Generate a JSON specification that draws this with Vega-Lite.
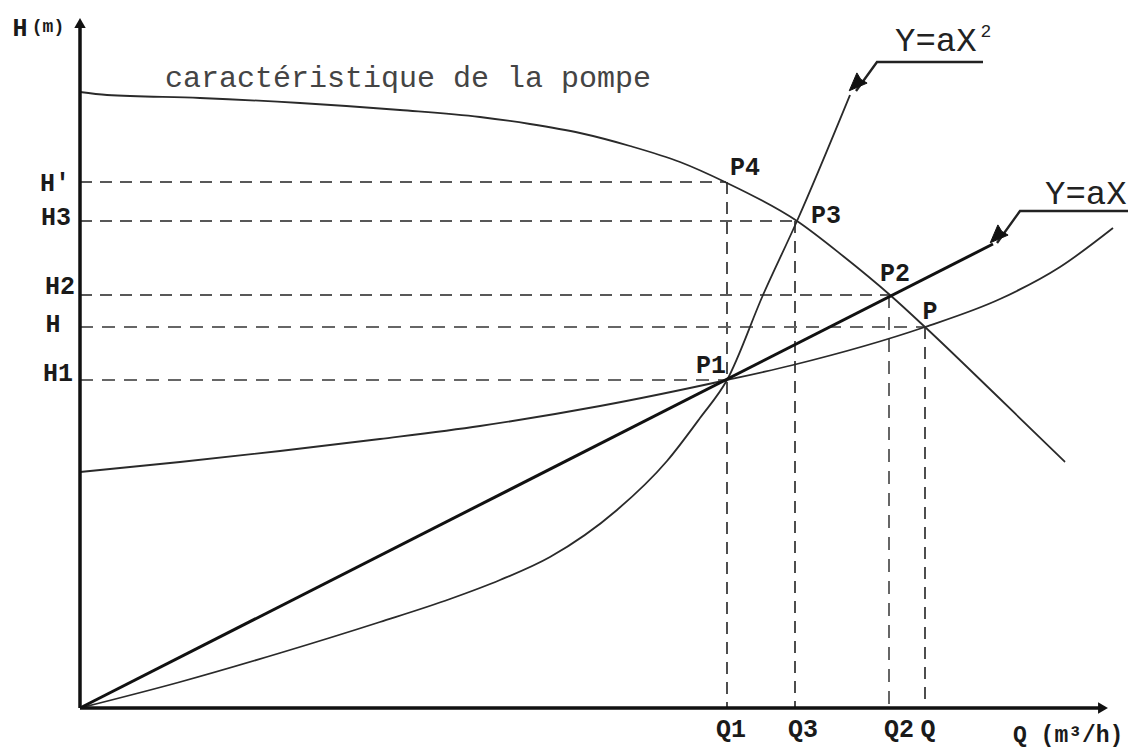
{
  "$schema": "https://vega.github.io/schema/vega-lite/v6.json",
  "width": 1030,
  "height": 693,
  "autosize": {"type": "none"},
  "padding": {"left": 80, "top": 15, "right": 35, "bottom": 43},
  "background": "white",
  "config": {"view": {"stroke": null}},
  "datasets": {
    "guides": [
      {"name": "H'", "tone": "dark", "x": 0, "y": 526, "x2": 646, "y2": 526},
      {"name": "H3", "tone": "dark", "x": 0, "y": 487, "x2": 717, "y2": 487},
      {"name": "H2", "tone": "dark", "x": 0, "y": 413, "x2": 810, "y2": 413},
      {"name": "H", "tone": "gray", "x": 0, "y": 381, "x2": 845, "y2": 381},
      {"name": "H1", "tone": "gray", "x": 0, "y": 328, "x2": 647, "y2": 328},
      {"name": "Q1", "tone": "dark", "x": 647, "y": 526, "x2": 647, "y2": 0},
      {"name": "Q3", "tone": "dark", "x": 715, "y": 487, "x2": 715, "y2": 0},
      {"name": "Q2", "tone": "gray", "x": 809, "y": 413, "x2": 809, "y2": 0},
      {"name": "Q", "tone": "dark", "x": 845, "y": 381, "x2": 845, "y2": 0}
    ],
    "curves": [
      {"s": "pump", "i": 0, "x": 0, "y": 616},
      {"s": "pump", "i": 1, "x": 27, "y": 613},
      {"s": "pump", "i": 2, "x": 120, "y": 610},
      {"s": "pump", "i": 3, "x": 220, "y": 605},
      {"s": "pump", "i": 4, "x": 320, "y": 598},
      {"s": "pump", "i": 5, "x": 400, "y": 591},
      {"s": "pump", "i": 6, "x": 450, "y": 584},
      {"s": "pump", "i": 7, "x": 500, "y": 575},
      {"s": "pump", "i": 8, "x": 550, "y": 562},
      {"s": "pump", "i": 9, "x": 600, "y": 546},
      {"s": "pump", "i": 10, "x": 645, "y": 526},
      {"s": "pump", "i": 11, "x": 717, "y": 487},
      {"s": "pump", "i": 12, "x": 763, "y": 452},
      {"s": "pump", "i": 13, "x": 810, "y": 413},
      {"s": "pump", "i": 14, "x": 845, "y": 381},
      {"s": "pump", "i": 15, "x": 915, "y": 314},
      {"s": "pump", "i": 16, "x": 985, "y": 246},
      {"s": "para", "i": 0, "x": 0, "y": 0},
      {"s": "para", "i": 1, "x": 100, "y": 26},
      {"s": "para", "i": 2, "x": 200, "y": 55},
      {"s": "para", "i": 3, "x": 300, "y": 86},
      {"s": "para", "i": 4, "x": 370, "y": 109},
      {"s": "para", "i": 5, "x": 420, "y": 128},
      {"s": "para", "i": 6, "x": 470, "y": 151},
      {"s": "para", "i": 7, "x": 537, "y": 198},
      {"s": "para", "i": 8, "x": 587, "y": 247},
      {"s": "para", "i": 9, "x": 620, "y": 290},
      {"s": "para", "i": 10, "x": 647, "y": 328},
      {"s": "para", "i": 11, "x": 683, "y": 413},
      {"s": "para", "i": 12, "x": 717, "y": 487},
      {"s": "para", "i": 13, "x": 770, "y": 613},
      {"s": "lin", "i": 0, "x": 0, "y": 0},
      {"s": "lin", "i": 1, "x": 913, "y": 464},
      {"s": "net", "i": 0, "x": 0, "y": 236},
      {"s": "net", "i": 1, "x": 100, "y": 246},
      {"s": "net", "i": 2, "x": 200, "y": 257},
      {"s": "net", "i": 3, "x": 300, "y": 269},
      {"s": "net", "i": 4, "x": 400, "y": 282},
      {"s": "net", "i": 5, "x": 520, "y": 302},
      {"s": "net", "i": 6, "x": 647, "y": 328},
      {"s": "net", "i": 7, "x": 713, "y": 343},
      {"s": "net", "i": 8, "x": 845, "y": 381},
      {"s": "net", "i": 9, "x": 920, "y": 409},
      {"s": "net", "i": 10, "x": 980, "y": 441},
      {"s": "net", "i": 11, "x": 1033, "y": 480},
      {"s": "lead1", "i": 0, "x": 776, "y": 617},
      {"s": "lead1", "i": 1, "x": 797, "y": 646},
      {"s": "lead1", "i": 2, "x": 903, "y": 646},
      {"s": "lead2", "i": 0, "x": 917, "y": 465},
      {"s": "lead2", "i": 1, "x": 940, "y": 497},
      {"s": "lead2", "i": 2, "x": 1048, "y": 497}
    ],
    "axes": [
      {"name": "Q", "x": 0, "y": 0, "x2": 1022, "y2": 0},
      {"name": "H", "x": 0, "y": 0, "x2": 0, "y2": 684}
    ],
    "heads": [
      {"name": "yaxis", "x": 0, "y": 685},
      {"name": "xaxis", "x": 1023, "y": 0},
      {"name": "lead1", "x": 782, "y": 630},
      {"name": "lead2", "x": 923, "y": 478}
    ],
    "labels": [
      {"kind": "h", "text": "H'", "x": -25, "y": 525},
      {"kind": "h", "text": "H3", "x": -24, "y": 491},
      {"kind": "h", "text": "H2", "x": -20, "y": 422},
      {"kind": "h", "text": "H", "x": -27, "y": 384},
      {"kind": "h", "text": "H1", "x": -22, "y": 335},
      {"kind": "h", "text": "Q1", "x": 651, "y": -21},
      {"kind": "h", "text": "Q3", "x": 723, "y": -21},
      {"kind": "h", "text": "Q2", "x": 819, "y": -21},
      {"kind": "h", "text": "Q", "x": 848, "y": -21},
      {"kind": "h", "text": "P4", "x": 665, "y": 541},
      {"kind": "h", "text": "P3", "x": 746, "y": 493},
      {"kind": "h", "text": "P2", "x": 815, "y": 435},
      {"kind": "h", "text": "P", "x": 850, "y": 397},
      {"kind": "h", "text": "P1", "x": 631, "y": 343},
      {"kind": "h", "text": "H", "x": -60, "y": 680},
      {"kind": "m", "text": "(m)", "x": -32, "y": 681},
      {"kind": "qt", "text": "Q (m³/h)", "x": 933, "y": -27},
      {"kind": "cap", "text": "caractéristique de la pompe", "x": 85, "y": 630},
      {"kind": "eq", "text": "Y=aX", "x": 815, "y": 667},
      {"kind": "eq", "text": "Y=aX", "x": 965, "y": 514},
      {"kind": "sup", "text": "2", "x": 906, "y": 676}
    ]
  },
  "encoding": {
    "x": {"field": "x", "type": "quantitative", "scale": {"domain": [0, 1030], "nice": false, "zero": false}, "axis": null},
    "y": {"field": "y", "type": "quantitative", "scale": {"domain": [0, 693], "nice": false, "zero": false}, "axis": null}
  },
  "layer": [
    {
      "data": {"name": "guides"},
      "transform": [{"filter": "datum.tone == 'dark'"}],
      "mark": {"type": "rule", "stroke": "#222", "strokeWidth": 1.6, "strokeDash": [12, 8]},
      "encoding": {"x2": {"field": "x2"}, "y2": {"field": "y2"}}
    },
    {
      "data": {"name": "guides"},
      "transform": [{"filter": "datum.tone == 'gray'"}],
      "mark": {"type": "rule", "stroke": "#666", "strokeWidth": 2, "strokeDash": [13, 9]},
      "encoding": {"x2": {"field": "x2"}, "y2": {"field": "y2"}}
    },
    {
      "data": {"name": "curves"},
      "transform": [{"filter": "datum.s == 'pump' || datum.s == 'para' || datum.s == 'net'"}],
      "mark": {"type": "line", "stroke": "#2a2a2a", "strokeWidth": 1.8, "interpolate": "monotone"},
      "encoding": {
        "detail": {"field": "s", "type": "nominal"},
        "order": {"field": "i", "type": "quantitative"}
      }
    },
    {
      "data": {"name": "curves"},
      "transform": [{"filter": "datum.s == 'lin'"}],
      "mark": {"type": "line", "stroke": "#111", "strokeWidth": 3},
      "encoding": {"order": {"field": "i", "type": "quantitative"}}
    },
    {
      "data": {"name": "curves"},
      "transform": [{"filter": "datum.s == 'lead1' || datum.s == 'lead2'"}],
      "mark": {"type": "line", "stroke": "#222", "strokeWidth": 2.4},
      "encoding": {
        "detail": {"field": "s", "type": "nominal"},
        "order": {"field": "i", "type": "quantitative"}
      }
    },
    {
      "data": {"name": "axes"},
      "mark": {"type": "rule", "stroke": "#111", "strokeWidth": 3.5},
      "encoding": {"x2": {"field": "x2"}, "y2": {"field": "y2"}}
    },
    {
      "data": {"name": "heads"},
      "transform": [{"filter": "datum.name == 'yaxis'"}],
      "mark": {"type": "point", "shape": "triangle-up", "filled": true, "fill": "#111", "size": 130, "opacity": 1}
    },
    {
      "data": {"name": "heads"},
      "transform": [{"filter": "datum.name == 'xaxis'"}],
      "mark": {"type": "point", "shape": "triangle-right", "filled": true, "fill": "#111", "size": 130, "opacity": 1}
    },
    {
      "data": {"name": "heads"},
      "transform": [{"filter": "datum.name == 'lead1' || datum.name == 'lead2'"}],
      "mark": {"type": "point", "shape": "M-1,1L-0.4,-0.4L-0.1,0.1L0.4,0.4Z", "filled": true, "fill": "#111", "stroke": "#111", "strokeWidth": 1, "size": 650, "opacity": 1}
    },
    {
      "data": {"name": "labels"},
      "transform": [{"filter": "datum.kind == 'h'"}],
      "mark": {"type": "text", "font": "Liberation Mono", "fontWeight": "bold", "fontSize": 25, "fill": "#1a1a1a", "align": "center", "baseline": "middle"},
      "encoding": {"text": {"field": "text", "type": "nominal"}}
    },
    {
      "data": {"name": "labels"},
      "transform": [{"filter": "datum.kind == 'm'"}],
      "mark": {"type": "text", "font": "Liberation Mono", "fontWeight": "bold", "fontSize": 18, "fill": "#1a1a1a", "align": "center", "baseline": "middle"},
      "encoding": {"text": {"field": "text", "type": "nominal"}}
    },
    {
      "data": {"name": "labels"},
      "transform": [{"filter": "datum.kind == 'qt'"}],
      "mark": {"type": "text", "font": "Liberation Mono", "fontWeight": "bold", "fontSize": 23, "fill": "#1a1a1a", "align": "left", "baseline": "middle"},
      "encoding": {"text": {"field": "text", "type": "nominal"}}
    },
    {
      "data": {"name": "labels"},
      "transform": [{"filter": "datum.kind == 'cap'"}],
      "mark": {"type": "text", "font": "Liberation Mono", "fontSize": 30, "fill": "#444", "align": "left", "baseline": "middle"},
      "encoding": {"text": {"field": "text", "type": "nominal"}}
    },
    {
      "data": {"name": "labels"},
      "transform": [{"filter": "datum.kind == 'eq'"}],
      "mark": {"type": "text", "font": "Liberation Mono", "fontSize": 34, "fill": "#222", "align": "left", "baseline": "middle"},
      "encoding": {"text": {"field": "text", "type": "nominal"}}
    },
    {
      "data": {"name": "labels"},
      "transform": [{"filter": "datum.kind == 'sup'"}],
      "mark": {"type": "text", "font": "Liberation Mono", "fontSize": 18, "fill": "#222", "align": "center", "baseline": "middle"},
      "encoding": {"text": {"field": "text", "type": "nominal"}}
    }
  ]
}
